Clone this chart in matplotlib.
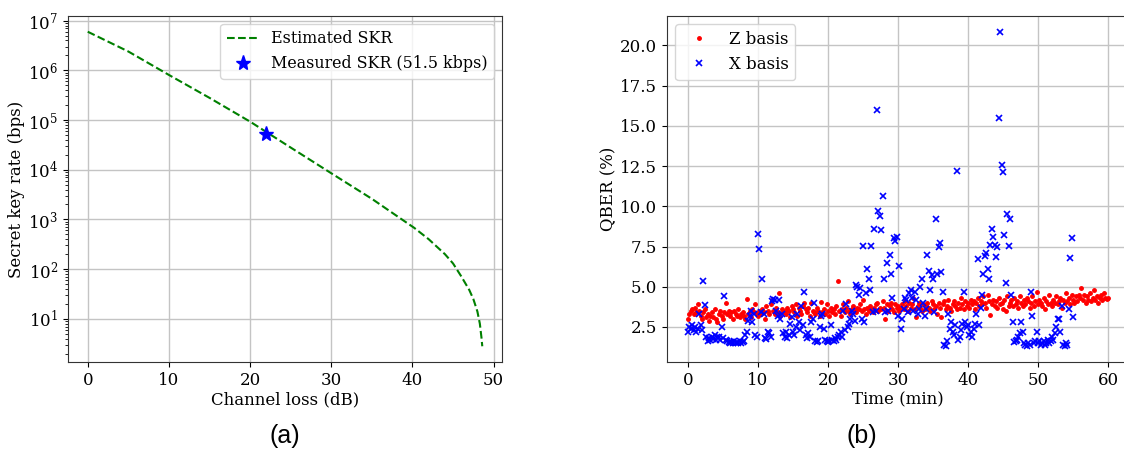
import numpy as np
import matplotlib
matplotlib.use('Agg')
import matplotlib.pyplot as plt

# (a) estimated secret key rate vs channel loss
loss_db = [0, 5, 10, 15, 20, 25, 30, 35, 38.7, 40.2, 42, 44, 45, 46, 47, 47.5, 48, 48.3, 48.5, 48.6]
skr_bps = [6.0e6, 2.4e6, 8.1e5, 2.8e5, 9.3e4, 2.8e4, 8.5e3, 2.6e3, 1.0e3, 680, 400, 200, 130, 72, 38, 25, 14, 8, 4.2, 2.8]
meas_loss = 22
meas_skr = 51.5e3

# (b) QBER over time
t_z = np.round(np.arange(0, 60.01, 0.2), 1)
qber_z = [
    2.97, 3.3, 3.5, 3.6, 3.3, 3.7, 3.4, 3.9, 3.5, 3.2,
    3.0, 3.4, 3.6, 3.1, 3.3, 2.9, 3.2, 3.4, 3.1, 3.6,
    3.0, 2.8, 3.3, 3.5, 3.2, 3.0, 3.4, 4.0, 3.3, 3.5,
    3.2, 3.4, 3.0, 3.5, 3.3, 3.2, 3.6, 3.1, 3.3, 3.4,
    3.2, 3.0, 4.25, 3.3, 3.5, 3.1, 3.6, 3.4, 3.9, 3.3,
    3.2, 3.5, 3.3, 3.6, 3.4, 3.0, 3.8, 3.5, 3.3, 3.9,
    4.2, 3.5, 3.3, 3.7, 3.4, 4.6, 3.2, 3.6, 3.4, 3.5,
    3.3, 3.7, 3.5, 3.1, 3.8, 3.6, 3.4, 3.9, 3.2, 3.7,
    3.5, 3.3, 3.8, 4.0, 3.6, 3.4, 3.7, 3.2, 4.0, 3.5,
    3.4, 3.3, 3.7, 3.5, 3.2, 4.05, 3.4, 3.6, 3.3, 3.9,
    3.5, 3.2, 3.7, 3.4, 3.6, 3.3, 3.8, 5.35, 3.5, 3.2,
    3.6, 3.9, 3.4, 3.7, 4.1, 3.5, 3.3, 3.6, 3.8, 3.5,
    3.4, 3.7, 3.6, 3.9, 3.5, 4.2, 3.6, 3.3, 3.7, 3.5,
    3.8, 3.6, 3.4, 3.7, 3.9, 4.0, 3.5, 3.7, 3.6, 4.1,
    3.7, 3.0, 3.9, 3.5, 3.8, 4.0, 3.6, 3.4, 3.9, 3.7,
    3.8, 3.5, 3.7, 3.9, 3.6, 4.1, 3.8, 3.5, 4.0, 3.7,
    3.9, 4.3, 3.6, 3.1, 3.8, 4.0, 3.7, 3.5, 3.9, 3.6,
    3.8, 4.0, 3.7, 3.5, 4.1, 3.9, 3.6, 3.8, 3.3, 4.0,
    3.7, 3.1, 3.9, 4.1, 3.6, 3.8, 4.2, 3.7, 3.5, 3.9,
    4.1, 3.8, 3.6, 4.0, 3.7, 4.3, 3.9, 3.6, 4.1, 3.8,
    4.0, 3.7, 4.2, 3.9, 4.1, 3.6, 4.0, 4.3, 3.8, 4.1,
    3.9, 4.4, 4.0, 3.7, 4.5, 4.1, 3.25, 3.9, 4.2, 3.8,
    4.1, 3.7, 4.3, 3.9, 4.0, 3.6, 4.2, 3.5, 4.4, 3.8,
    4.0, 4.2, 3.8, 4.3, 3.9, 4.1, 3.7, 4.4, 4.0, 3.8,
    4.2, 3.9, 4.3, 4.1, 3.7, 4.0, 4.4, 3.8, 4.1, 4.7,
    3.9, 4.2, 4.0, 3.8, 4.3, 3.6, 4.1, 3.9, 4.5, 4.0,
    3.8, 4.2, 4.0, 4.4, 3.9, 4.1, 4.3, 3.7, 4.2, 4.0,
    4.6, 4.1, 4.3, 3.9, 4.5, 4.2, 4.0, 4.4, 4.1, 4.5,
    4.3, 4.9, 4.2, 4.5, 4.0, 4.4, 4.2, 4.6, 4.1, 4.3,
    4.8, 4.2, 4.4, 4.0, 4.3, 4.5, 4.2, 4.6, 4.3, 4.25,
    4.3,
]

t_x = np.round(np.arange(0, 55.01, 0.2), 1)
qber_x = [
    2.2, 2.5, 2.4, 2.6, 2.3, 2.5, 2.2, 2.4, 3.3, 2.6,
    2.3, 5.35, 3.85, 1.9, 1.6, 1.8, 1.7, 1.9, 1.75, 2.0,
    1.7, 1.85, 1.9, 1.7, 2.5, 1.8, 4.4, 1.7, 1.6, 1.55,
    1.5, 1.55, 1.5, 1.6, 1.5, 1.55, 1.5, 1.6, 1.5, 1.55,
    1.6, 2.0, 2.2, 2.9, 3.2, 3.5, 2.8, 3.3, 2.0, 1.9,
    8.3, 7.35, 3.4, 5.5, 3.3, 1.8, 1.75, 2.2, 2.1, 1.9,
    4.1, 4.25, 4.2, 3.5, 3.2, 4.15, 3.0, 3.3, 2.1, 1.9,
    2.2, 1.8, 2.0, 2.7, 3.1, 2.2, 2.0, 2.5, 3.3, 2.8,
    2.3, 3.8, 2.6, 4.65, 2.0, 1.8, 2.1, 1.9, 2.8, 3.0,
    4.0, 1.6, 1.55, 1.6, 2.5, 3.2, 3.3, 2.4, 1.7, 1.6,
    1.55, 1.6, 2.6, 1.7, 1.6, 1.8, 1.7, 1.9, 2.0, 2.2,
    1.9, 3.5, 2.3, 3.9, 2.5, 2.7, 3.0, 3.5, 3.3, 2.9,
    5.1, 5.0, 4.5, 4.95, 3.0, 7.55, 2.8, 4.6, 6.1, 5.5,
    4.8, 7.55, 3.4, 8.6, 3.5, 16.0, 9.7, 9.4, 8.5, 10.65,
    5.5, 3.4, 6.5, 3.5, 7.0, 5.8, 4.3, 8.0, 7.85, 8.1,
    3.2, 6.3, 2.4, 3.0, 3.6, 4.3, 4.2, 3.4, 4.6, 4.8,
    4.3, 3.5, 4.7, 4.2, 3.3, 3.6, 5.0, 5.5, 4.0, 3.2,
    3.6, 7.0, 6.0, 4.8, 5.7, 5.5, 3.4, 9.2, 5.8, 7.5,
    7.7, 5.9, 4.7, 1.4, 1.3, 1.6, 3.3, 2.4, 2.8, 2.2,
    2.0, 2.6, 12.2, 1.7, 1.9, 2.3, 2.7, 4.65, 2.8, 2.5,
    2.6, 2.0, 2.2, 1.9, 2.4, 2.7, 3.3, 6.7, 2.6, 3.7,
    4.5, 5.8, 6.9, 7.1, 6.1, 5.5, 7.6, 8.6, 8.1, 7.6,
    6.85, 7.5, 15.5, 20.85, 12.55, 12.15, 8.2, 5.25, 9.55, 7.55,
    9.2, 4.5, 2.8, 1.55, 1.6, 1.7, 1.9, 2.1, 2.8, 2.2,
    1.5, 1.4, 1.3, 1.5, 1.4, 4.7, 3.2, 1.5, 1.6, 2.2,
    1.5, 1.6, 1.4, 1.5, 1.6, 1.4, 1.5, 1.7, 1.5, 1.6,
    1.9, 1.7, 2.1, 2.5, 3.0, 3.0, 2.2, 3.8, 1.4, 1.3,
    1.5, 1.4, 3.6, 6.8, 8.05, 3.1,
]

plt.rcParams['font.family'] = 'DejaVu Serif'
plt.rcParams['font.size'] = 12
plt.rcParams['grid.color'] = '#c4c4c4'
plt.rcParams['grid.linewidth'] = 1.0
plt.rcParams['axes.edgecolor'] = '#333333'

fig = plt.figure(figsize=(11.24, 4.5), dpi=100)

ax1 = fig.add_axes([68 / 1124, 88 / 450, 434 / 1124, 346 / 450])
ax1.plot(loss_db, skr_bps, 'g--', label='Estimated SKR')
ax1.plot(meas_loss, meas_skr, 'b*', markersize=11, label='Measured SKR (51.5 kbps)')
ax1.set_yscale('log')
ax1.set_xlabel('Channel loss (dB)', labelpad=2)
ax1.set_ylabel('Secret key rate (bps)', labelpad=2)
ax1.set_xticks([0, 10, 20, 30, 40, 50])
ax1.grid(True)
ax1.legend(loc='upper right', fontsize=11.4)

ax2 = fig.add_axes([667 / 1124, 88 / 450, 462 / 1124, 346 / 450])
ax2.plot(t_z, qber_z, 'r.', markersize=5, label='Z basis')
ax2.plot(t_x, qber_x, 'bx', markersize=4.5, markeredgewidth=1.2, label='X basis')
ax2.set_xlabel('Time (min)', labelpad=2)
ax2.set_ylabel('QBER (%)', labelpad=2)
ax2.set_xticks([0, 10, 20, 30, 40, 50, 60])
ax2.set_yticks([2.5, 5.0, 7.5, 10.0, 12.5, 15.0, 17.5, 20.0])
ax2.grid(True)
ax2.legend(loc='upper left')

fig.text(285 / 1124, 14 / 450, '(a)', family='Liberation Sans', fontsize=18, ha='center', va='center')
fig.text(862 / 1124, 14 / 450, '(b)', family='Liberation Sans', fontsize=18, ha='center', va='center')

fig.savefig('out.png', dpi=100)
